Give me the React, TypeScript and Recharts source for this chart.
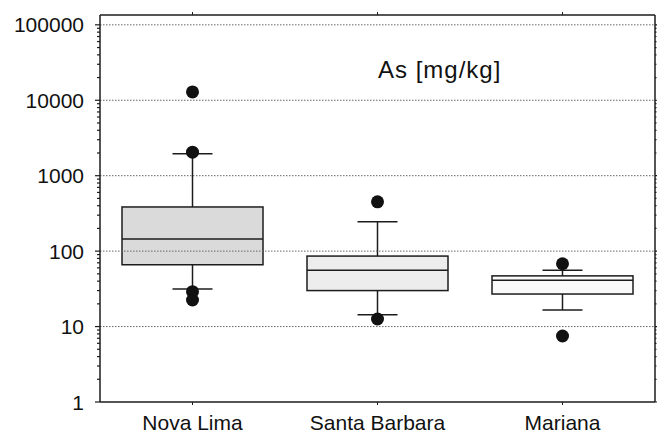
import React from 'react';
import { ComposedChart, Bar, Scatter, XAxis, YAxis, ReferenceLine } from 'recharts';

const categories = ['Nova Lima', 'Santa Barbara', 'Mariana'];
const whiskerLow = [31.5, 14.3, 16.6];
const q1 = [66, 30, 27];
const median = [145, 56, 41];
const q3 = [385, 86, 47];
const whiskerHigh = [1950, 245, 56];
const outliersNovaLima = [12900, 2050, 29, 22.5];
const outliersSantaBarbara = [450, 12.6];
const outliersMariana = [68, 7.5];
const majorTicks = [1, 10, 100, 1000, 10000, 100000];
const minorSteps = [2, 3, 4, 5, 6, 7, 8, 9];

const boxFills = ['#dadada', '#ededed', '#fafafa'];
const INK = '#1c1c1c';
const FONT = '"Liberation Sans", Arial, Helvetica, sans-serif';

const data = categories.map((name, i) => ({
  name,
  whisk: [whiskerLow[i], whiskerHigh[i]],
  box: [q1[i], q3[i]],
  med: median[i],
}));

const outlierData = [
  ...outliersNovaLima.map((v) => ({ name: categories[0], v })),
  ...outliersSantaBarbara.map((v) => ({ name: categories[1], v })),
  ...outliersMariana.map((v) => ({ name: categories[2], v })),
];

const allTicks = [
  ...majorTicks,
  ...majorTicks.slice(0, -1).flatMap((m) => minorSteps.map((s) => m * s)),
].sort((a, b) => a - b);

const LeftTick = (props: any) => {
  const { x, y, payload } = props;
  const v = payload.value;
  const major = majorTicks.includes(v);
  return (
    <g>
      <line x1={x} x2={x - (major ? 5 : 3)} y1={y} y2={y} stroke={INK} strokeWidth={1.2} />
      {major && (
        <text x={x - 16} y={y} dy="0.36em" textAnchor="end" fontSize={21} fill="#111" fontFamily={FONT}>
          {v}
        </text>
      )}
    </g>
  );
};

const RightTick = (props: any) => {
  const { x, y, payload } = props;
  const major = majorTicks.includes(payload.value);
  return <line x1={x} x2={x + (major ? 2 : 1.5)} y1={y} y2={y} stroke={INK} strokeWidth={1.2} />;
};

const WhiskerShape = (props: any) => {
  const { x, y, width, height } = props;
  const cx = x + width / 2;
  const top = Math.min(y, y + height);
  const bot = Math.max(y, y + height);
  return (
    <g>
      <line x1={cx} x2={cx} y1={top} y2={bot} stroke={INK} strokeWidth={1.5} />
      <line x1={cx - 20} x2={cx + 20} y1={top} y2={top} stroke={INK} strokeWidth={1.5} />
      <line x1={cx - 20} x2={cx + 20} y1={bot} y2={bot} stroke={INK} strokeWidth={1.5} />
    </g>
  );
};

const BoxShape = (props: any) => {
  const { x, y, width, height, index } = props;
  const top = Math.min(y, y + height);
  const h = Math.abs(height);
  return <rect x={x} y={top} width={width} height={h} fill={boxFills[index]} stroke={INK} strokeWidth={1.5} />;
};

const MedianShape = (props: any) => {
  const { cx, cy } = props;
  return <line x1={cx - 70.5} x2={cx + 70.5} y1={cy} y2={cy} stroke={INK} strokeWidth={1.5} />;
};

const OutlierShape = (props: any) => {
  const { cx, cy } = props;
  return <circle cx={cx} cy={cy} r={6.5} fill="#111" />;
};

export default function App() {
  return (
    <div style={{ position: 'absolute', left: 0, top: 0, width: 657, height: 435, background: '#fff' }}>
      <ComposedChart width={657} height={435} data={data} margin={{ top: 0, right: 0, bottom: 0, left: 0 }}>
        {majorTicks.slice(1).map((v) => (
          <ReferenceLine
            key={v}
            y={v}
            xAxisId="main"
            yAxisId="left"
            stroke="#666"
            strokeDasharray="1.5 1.5"
            strokeWidth={1}
          />
        ))}
        <XAxis
          xAxisId="main"
          dataKey="name"
          type="category"
          allowDuplicatedCategory={false}
          height={33}
          tickSize={3}
          tickMargin={10}
          axisLine={{ stroke: INK, strokeWidth: 1.5 }}
          tickLine={{ stroke: INK }}
          tick={{ fontSize: 21, fill: '#111', fontFamily: FONT }}
          interval={0}
        />
        <XAxis
          xAxisId="top"
          orientation="top"
          dataKey="name"
          type="category"
          allowDuplicatedCategory={false}
          height={15}
          tickSize={3}
          tickFormatter={() => ''}
          axisLine={{ stroke: INK, strokeWidth: 1.5 }}
          tickLine={{ stroke: INK }}
          interval={0}
        />
        <YAxis
          yAxisId="left"
          type="number"
          scale="log"
          domain={[1, 135000]}
          allowDataOverflow
          ticks={allTicks}
          interval={0}
          width={100}
          tickSize={0}
          tickMargin={0}
          tickLine={false}
          axisLine={{ stroke: INK, strokeWidth: 1.5 }}
          tick={<LeftTick />}
        />
        <YAxis
          yAxisId="right"
          orientation="right"
          type="number"
          scale="log"
          domain={[1, 135000]}
          allowDataOverflow
          ticks={allTicks}
          interval={0}
          width={2}
          tickSize={0}
          tickMargin={0}
          tickLine={false}
          axisLine={{ stroke: INK, strokeWidth: 1.5 }}
          tick={<RightTick />}
        />
        <Bar
          xAxisId="main"
          yAxisId="left"
          dataKey="whisk"
          barSize={141}
          shape={<WhiskerShape />}
          isAnimationActive={false}
        />
        <Bar
          xAxisId="top"
          yAxisId="left"
          dataKey="box"
          barSize={141}
          shape={<BoxShape />}
          isAnimationActive={false}
        />
        <Scatter xAxisId="main" yAxisId="left" dataKey="med" shape={<MedianShape />} isAnimationActive={false} />
        <Scatter
          xAxisId="main"
          yAxisId="left"
          data={outlierData}
          dataKey="v"
          shape={<OutlierShape />}
          isAnimationActive={false}
        />
      </ComposedChart>
      <svg style={{ position: 'absolute', left: 0, top: 0, pointerEvents: 'none' }} width={657} height={435}>
        <text x={378} y={78} fontSize={24} letterSpacing={1} fill="#111" fontFamily={FONT}>
          As [mg/kg]
        </text>
      </svg>
    </div>
  );
}
